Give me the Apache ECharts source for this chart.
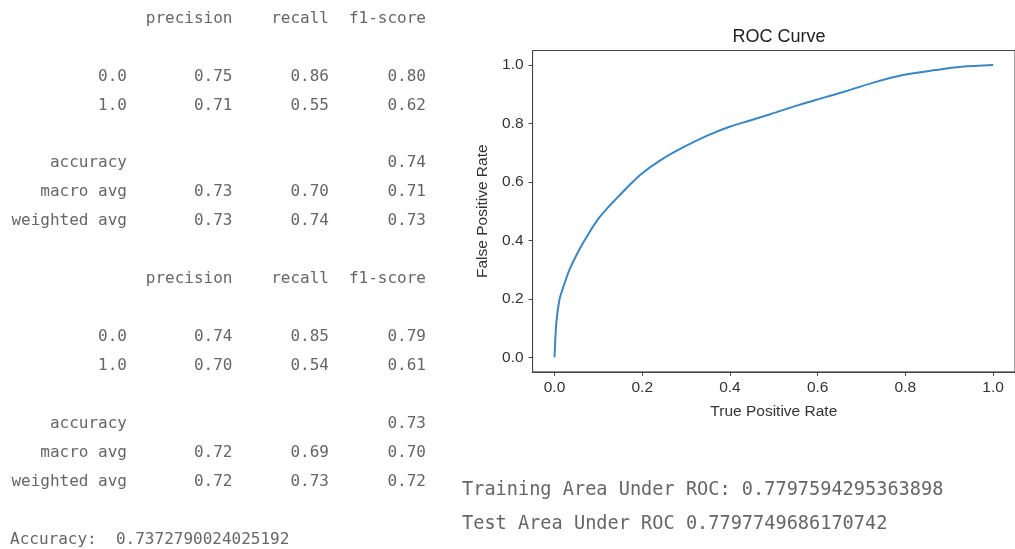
<!DOCTYPE html>
<html>
<head>
<meta charset="utf-8">
<script src="https://cdn.jsdelivr.net/npm/echarts@6/dist/echarts.min.js"></script>
<style>
html,body{margin:0;padding:0;background:#fff;}
#main{width:1015px;height:549px;}
</style>
</head>
<body>
<div id="main"></div>
<script>
// ---- Classification reports (left text) ----
var reportHeaders = ['precision', 'recall', 'f1-score'];
var classLabels = ['0.0', '1.0'];
var report1Classes = [[0.75, 0.86, 0.80], [0.71, 0.55, 0.62]];
var report1Accuracy = 0.74;
var report1Macro = [0.73, 0.70, 0.71];
var report1Weighted = [0.73, 0.74, 0.73];
var report2Classes = [[0.74, 0.85, 0.79], [0.70, 0.54, 0.61]];
var report2Accuracy = 0.73;
var report2Macro = [0.72, 0.69, 0.70];
var report2Weighted = [0.72, 0.73, 0.72];
var overallAccuracy = '0.7372790024025192';
var trainingAUC = '0.7797594295363898';
var testAUC = '0.7797749686170742';

// ---- ROC curve (x = "True Positive Rate", y = "False Positive Rate" as labelled) ----
var rocX = [0, 0.004, 0.011, 0.019, 0.034, 0.056, 0.078, 0.101, 0.123, 0.145, 0.170, 0.200, 0.242, 0.295, 0.347, 0.399, 0.440, 0.492, 0.556, 0.610, 0.660, 0.727, 0.794, 0.869, 0.928, 1.0];
var rocY = [0, 0.116, 0.196, 0.236, 0.299, 0.367, 0.424, 0.476, 0.515, 0.549, 0.588, 0.630, 0.675, 0.720, 0.758, 0.789, 0.808, 0.832, 0.863, 0.887, 0.909, 0.940, 0.966, 0.983, 0.994, 1.0];
var axisTicks = [0, 0.2, 0.4, 0.6, 0.8, 1.0];

var chart = echarts.init(document.getElementById('main'));

var mono = '"DejaVu Sans Mono", "Liberation Mono", monospace';
var textGrey = '#666666';
var lineY0 = 18.5, lineStep = 28.95;
var colRight = [127, 232.5, 329, 426];

var graphics = [];
function cell(txt, col, line) {
  graphics.push({
    type: 'text', x: colRight[col], y: lineY0 + line * lineStep,
    style: { text: txt, font: '16px ' + mono, fill: textGrey, align: 'right', verticalAlign: 'middle' }
  });
}
function report(startLine, classes, acc, macro, weighted) {
  reportHeaders.forEach(function (h, i) { cell(h, i + 1, startLine); });
  classes.forEach(function (row, r) {
    cell(classLabels[r], 0, startLine + 2 + r);
    row.forEach(function (v, i) { cell(v.toFixed(2), i + 1, startLine + 2 + r); });
  });
  cell('accuracy', 0, startLine + 5);
  cell(acc.toFixed(2), 3, startLine + 5);
  cell('macro avg', 0, startLine + 6);
  macro.forEach(function (v, i) { cell(v.toFixed(2), i + 1, startLine + 6); });
  cell('weighted avg', 0, startLine + 7);
  weighted.forEach(function (v, i) { cell(v.toFixed(2), i + 1, startLine + 7); });
}
report(0, report1Classes, report1Accuracy, report1Macro, report1Weighted);
report(9, report2Classes, report2Accuracy, report2Macro, report2Weighted);
graphics.push({
  type: 'text', x: 10, y: lineY0 + 18 * lineStep,
  style: { text: 'Accuracy:  ' + overallAccuracy, font: '16px ' + mono, fill: textGrey, align: 'left', verticalAlign: 'middle' }
});
graphics.push({
  type: 'text', x: 462, y: 490.5,
  style: { text: 'Training Area Under ROC: ' + trainingAUC, font: '18.6px ' + mono, fill: textGrey, align: 'left', verticalAlign: 'middle' }
});
graphics.push({
  type: 'text', x: 462, y: 524.5,
  style: { text: 'Test Area Under ROC ' + testAUC, font: '18.6px ' + mono, fill: textGrey, align: 'left', verticalAlign: 'middle' }
});
graphics.push({
  type: 'text', x: 779, y: 37,
  style: { text: 'ROC Curve', font: '18px "Liberation Sans", Arial, sans-serif', fill: '#222', align: 'center', verticalAlign: 'middle' }
});

var sans = '"Liberation Sans", Arial, sans-serif';
var axisColor = '#444';

chart.setOption({
  animation: false,
  backgroundColor: '#fff',
  grid: {
    left: 532.6, top: 50.5, width: 491.8, height: 321.4,
    show: true, borderColor: axisColor, borderWidth: 1, backgroundColor: 'transparent'
  },
  xAxis: {
    type: 'value', min: -0.05, max: 1.05,
    name: 'True Positive Rate', nameLocation: 'middle', nameGap: 32,
    nameTextStyle: { fontFamily: sans, fontSize: 15.5, color: '#333' },
    axisLine: { show: true, onZero: false, lineStyle: { color: axisColor, width: 1 } },
    axisTick: { show: true, length: 4, lineStyle: { color: axisColor }, customValues: axisTicks },
    axisLabel: { margin: 8, fontFamily: sans, fontSize: 15.5, color: '#333', customValues: axisTicks,
      formatter: function (v) { return v.toFixed(1); } },
    splitLine: { show: false }
  },
  yAxis: {
    type: 'value', min: -0.05, max: 1.05,
    name: 'False Positive Rate', nameLocation: 'middle', nameGap: 42,
    nameTextStyle: { fontFamily: sans, fontSize: 15.5, color: '#333' },
    axisLine: { show: true, onZero: false, lineStyle: { color: axisColor, width: 1 } },
    axisTick: { show: true, length: 4, lineStyle: { color: axisColor }, customValues: axisTicks },
    axisLabel: { margin: 9, fontFamily: sans, fontSize: 15.5, color: '#333', customValues: axisTicks,
      formatter: function (v) { return v.toFixed(1); } },
    splitLine: { show: false }
  },
  series: [{
    type: 'line',
    data: rocX.map(function (x, i) { return [x, rocY[i]]; }),
    smooth: 0.3,
    showSymbol: false,
    lineStyle: { color: '#3a87c4', width: 2 }
  }],
  graphic: graphics
});
</script>
</body>
</html>
